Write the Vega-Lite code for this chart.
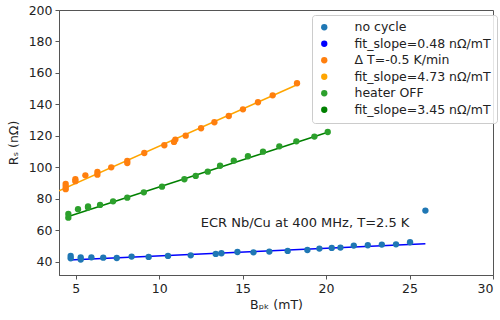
{
  "$schema": "https://vega.github.io/schema/vega-lite/v6.json",
  "width": 434,
  "height": 265,
  "autosize": {"type": "none"},
  "padding": {"left": 59, "top": 10, "right": 7, "bottom": 45},
  "config": {
    "font": "DejaVu Sans",
    "view": {"stroke": "#555", "strokeWidth": 1},
    "axis": {
      "grid": false,
      "domainColor": "#555",
      "tickColor": "#555",
      "tickSize": 4,
      "labelFontSize": 12.5,
      "labelColor": "#222",
      "titleFontSize": 12.5,
      "titleFontWeight": "normal",
      "titleColor": "#222"
    },
    "legend": {
      "orient": "none",
      "legendX": 253,
      "legendY": 5,
      "padding": 6,
      "rowPadding": 3.5,
      "strokeColor": "#cccccc",
      "fillColor": "rgba(255,255,255,0.85)",
      "cornerRadius": 3,
      "labelFontSize": 12.5,
      "labelColor": "#222",
      "labelOffset": 24,
      "labelLimit": 300,
      "symbolSize": 40,
      "symbolType": "circle",
      "symbolOpacity": 1,
      "symbolStrokeWidth": 0
    }
  },
  "datasets": {
    "measured": [
      {"B": 4.70, "Rs": 43.8, "series": "no cycle"},
      {"B": 4.70, "Rs": 42.3, "series": "no cycle"},
      {"B": 5.30, "Rs": 42.9, "series": "no cycle"},
      {"B": 5.30, "Rs": 41.5, "series": "no cycle"},
      {"B": 5.94, "Rs": 42.9, "series": "no cycle"},
      {"B": 6.65, "Rs": 42.7, "series": "no cycle"},
      {"B": 7.46, "Rs": 42.5, "series": "no cycle"},
      {"B": 8.35, "Rs": 43.4, "series": "no cycle"},
      {"B": 9.37, "Rs": 43.2, "series": "no cycle"},
      {"B": 10.53, "Rs": 43.8, "series": "no cycle"},
      {"B": 11.89, "Rs": 44.2, "series": "no cycle"},
      {"B": 13.39, "Rs": 45.1, "series": "no cycle"},
      {"B": 13.73, "Rs": 45.5, "series": "no cycle"},
      {"B": 14.69, "Rs": 46.3, "series": "no cycle"},
      {"B": 15.65, "Rs": 46.1, "series": "no cycle"},
      {"B": 16.60, "Rs": 46.6, "series": "no cycle"},
      {"B": 17.70, "Rs": 47.0, "series": "no cycle"},
      {"B": 18.88, "Rs": 47.6, "series": "no cycle"},
      {"B": 19.60, "Rs": 48.5, "series": "no cycle"},
      {"B": 20.34, "Rs": 48.9, "series": "no cycle"},
      {"B": 20.86, "Rs": 49.1, "series": "no cycle"},
      {"B": 21.66, "Rs": 50.4, "series": "no cycle"},
      {"B": 22.50, "Rs": 50.6, "series": "no cycle"},
      {"B": 23.34, "Rs": 51.0, "series": "no cycle"},
      {"B": 24.19, "Rs": 51.2, "series": "no cycle"},
      {"B": 25.03, "Rs": 52.5, "series": "no cycle"},
      {"B": 25.95, "Rs": 72.6, "series": "no cycle"},
      {"B": 4.40, "Rs": 89.5, "series": "Δ T=-0.5 K/min"},
      {"B": 4.40, "Rs": 87.8, "series": "Δ T=-0.5 K/min"},
      {"B": 4.40, "Rs": 86.2, "series": "Δ T=-0.5 K/min"},
      {"B": 4.98, "Rs": 92.5, "series": "Δ T=-0.5 K/min"},
      {"B": 4.98, "Rs": 91.3, "series": "Δ T=-0.5 K/min"},
      {"B": 5.58, "Rs": 95.0, "series": "Δ T=-0.5 K/min"},
      {"B": 6.30, "Rs": 97.1, "series": "Δ T=-0.5 K/min"},
      {"B": 6.30, "Rs": 95.4, "series": "Δ T=-0.5 K/min"},
      {"B": 7.13, "Rs": 100.1, "series": "Δ T=-0.5 K/min"},
      {"B": 8.09, "Rs": 104.1, "series": "Δ T=-0.5 K/min"},
      {"B": 8.09, "Rs": 102.8, "series": "Δ T=-0.5 K/min"},
      {"B": 9.11, "Rs": 109.2, "series": "Δ T=-0.5 K/min"},
      {"B": 10.31, "Rs": 114.1, "series": "Δ T=-0.5 K/min"},
      {"B": 10.89, "Rs": 116.2, "series": "Δ T=-0.5 K/min"},
      {"B": 10.97, "Rs": 117.7, "series": "Δ T=-0.5 K/min"},
      {"B": 11.59, "Rs": 120.2, "series": "Δ T=-0.5 K/min"},
      {"B": 12.51, "Rs": 124.9, "series": "Δ T=-0.5 K/min"},
      {"B": 13.31, "Rs": 128.7, "series": "Δ T=-0.5 K/min"},
      {"B": 14.17, "Rs": 132.7, "series": "Δ T=-0.5 K/min"},
      {"B": 15.02, "Rs": 136.9, "series": "Δ T=-0.5 K/min"},
      {"B": 15.92, "Rs": 141.4, "series": "Δ T=-0.5 K/min"},
      {"B": 16.80, "Rs": 145.8, "series": "Δ T=-0.5 K/min"},
      {"B": 18.26, "Rs": 153.5, "series": "Δ T=-0.5 K/min"},
      {"B": 4.56, "Rs": 70.5, "series": "heater OFF"},
      {"B": 4.56, "Rs": 68.1, "series": "heater OFF"},
      {"B": 5.14, "Rs": 73.5, "series": "heater OFF"},
      {"B": 5.74, "Rs": 74.5, "series": "heater OFF"},
      {"B": 5.74, "Rs": 75.3, "series": "heater OFF"},
      {"B": 6.46, "Rs": 76.2, "series": "heater OFF"},
      {"B": 7.24, "Rs": 78.5, "series": "heater OFF"},
      {"B": 8.09, "Rs": 80.8, "series": "heater OFF"},
      {"B": 9.08, "Rs": 84.2, "series": "heater OFF"},
      {"B": 10.17, "Rs": 87.8, "series": "heater OFF"},
      {"B": 11.51, "Rs": 92.5, "series": "heater OFF"},
      {"B": 12.19, "Rs": 94.6, "series": "heater OFF"},
      {"B": 12.91, "Rs": 97.3, "series": "heater OFF"},
      {"B": 13.65, "Rs": 101.1, "series": "heater OFF"},
      {"B": 14.47, "Rs": 104.3, "series": "heater OFF"},
      {"B": 15.32, "Rs": 107.1, "series": "heater OFF"},
      {"B": 16.22, "Rs": 110.0, "series": "heater OFF"},
      {"B": 17.20, "Rs": 113.4, "series": "heater OFF"},
      {"B": 18.22, "Rs": 116.6, "series": "heater OFF"},
      {"B": 19.30, "Rs": 119.6, "series": "heater OFF"},
      {"B": 20.10, "Rs": 122.5, "series": "heater OFF"}
    ],
    "fits": [
      {"B": 4.60, "Rs": 41.3, "series": "fit_slope=0.48 nΩ/mT"},
      {"B": 25.95, "Rs": 51.5, "series": "fit_slope=0.48 nΩ/mT"},
      {"B": 4.00, "Rs": 85.1, "series": "fit_slope=4.73 nΩ/mT"},
      {"B": 18.26, "Rs": 152.5, "series": "fit_slope=4.73 nΩ/mT"},
      {"B": 4.56, "Rs": 68.8, "series": "fit_slope=3.45 nΩ/mT"},
      {"B": 20.10, "Rs": 122.4, "series": "fit_slope=3.45 nΩ/mT"}
    ],
    "note": [
      {"B": 12.49, "Rs": 64.6, "text": "ECR Nb/Cu at 400 MHz, T=2.5 K"}
    ]
  },
  "encoding": {
    "x": {
      "field": "B",
      "type": "quantitative",
      "scale": {"domain": [4, 30], "nice": false},
      "axis": {"values": [5, 10, 15, 20, 25, 30], "title": "Bₚₖ (mT)", "labelPadding": 3, "titlePadding": 4}
    },
    "y": {
      "field": "Rs",
      "type": "quantitative",
      "scale": {"domain": [31.7, 200], "nice": false, "zero": false},
      "axis": {"values": [40, 60, 80, 100, 120, 140, 160, 180, 200], "title": "Rₛ (nΩ)", "labelPadding": 3, "titlePadding": 8}
    }
  },
  "layer": [
    {
      "data": {"name": "fits"},
      "mark": {"type": "line", "strokeWidth": 1.5, "clip": true},
      "encoding": {
        "stroke": {
          "field": "series",
          "type": "nominal",
          "scale": {
            "domain": ["fit_slope=0.48 nΩ/mT", "fit_slope=4.73 nΩ/mT", "fit_slope=3.45 nΩ/mT"],
            "range": ["#0000ff", "#ffa500", "#008000"]
          },
          "legend": null
        },
        "detail": {"field": "series"}
      }
    },
    {
      "data": {"name": "measured"},
      "mark": {"type": "point", "filled": true, "size": 40, "opacity": 1, "clip": true},
      "encoding": {
        "color": {
          "field": "series",
          "type": "nominal",
          "scale": {
            "domain": ["no cycle", "fit_slope=0.48 nΩ/mT", "Δ T=-0.5 K/min", "fit_slope=4.73 nΩ/mT", "heater OFF", "fit_slope=3.45 nΩ/mT"],
            "range": ["#1f77b4", "#0000ff", "#ff7f0e", "#ffa500", "#2ca02c", "#008000"]
          },
          "legend": {"title": null}
        }
      }
    },
    {
      "data": {"name": "note"},
      "mark": {"type": "text", "align": "left", "baseline": "middle", "fontSize": 13, "color": "#222"},
      "encoding": {"text": {"field": "text"}}
    }
  ]
}
